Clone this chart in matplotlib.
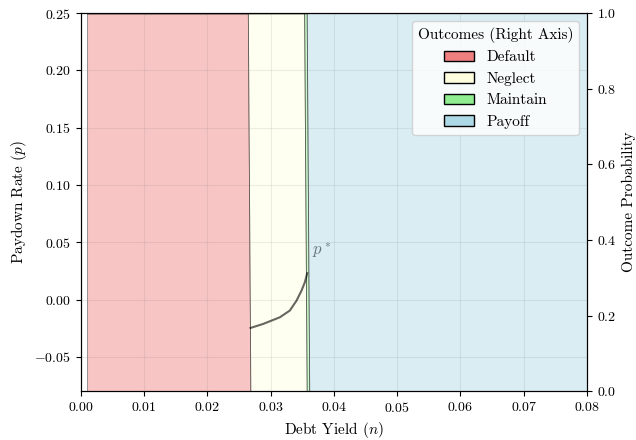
import matplotlib
matplotlib.use('Agg')
import matplotlib.pyplot as plt
from matplotlib.patches import Patch

plt.rcParams.update({
    'font.family': 'serif',
    'font.serif': ['cmr10'],
    'mathtext.fontset': 'cm',
    'axes.formatter.use_mathtext': True,
    'font.size': 11,
    'xtick.labelsize': 10,
    'ytick.labelsize': 10,
})

# Outcome probabilities along debt yield (right axis)
yield_n = [0.001, 0.0264, 0.0268, 0.0353, 0.0357, 0.0361, 0.08]
p_default = [1, 1, 0, 0, 0, 0, 0]
p_neglect = [0, 0, 1, 1, 0, 0, 0]
p_maintain = [0, 0, 0, 0, 1, 0, 0]
p_payoff = [0, 0, 0, 0, 0, 1, 1]

outcomes = ['Default', 'Neglect', 'Maintain', 'Payoff']
colors = ['lightcoral', 'lightyellow', 'lightgreen', 'lightblue']

# Threshold paydown rate p* (left axis)
pstar_n = [0.02683, 0.02882, 0.03146, 0.03304, 0.03410, 0.03489, 0.03541, 0.03578]
pstar_p = [-0.0248, -0.0213, -0.0155, -0.0096, -0.0009, 0.0079, 0.0151, 0.0230]

fig, ax = plt.subplots(figsize=(6.36, 4.4), dpi=100)
fig.subplots_adjust(left=0.127, right=0.923, top=0.970, bottom=0.111)
ax2 = ax.twinx()

ax2.stackplot(yield_n, p_default, p_neglect, p_maintain, p_payoff,
              colors=colors, alpha=0.45, edgecolor='k', linewidth=0.6)
ax2.set_ylim(0, 1)
ax2.set_ylabel('Outcome Probability')

# put left axis (line, grid, legend) on top of the filled areas
ax.set_zorder(ax2.get_zorder() + 1)
ax.patch.set_visible(False)

ax.plot(pstar_n, pstar_p, color='k', alpha=0.6, lw=1.5)
ax.text(0.0365, 0.043, '$p^*$', color='#6b7780', fontsize=12, va='center')

ax.set_xlim(0, 0.08)
ax.set_ylim(-0.08, 0.25)
ax.set_xlabel('Debt Yield ($n$)')
ax.set_ylabel('Paydown Rate ($p$)')
ax.grid(True, color='gray', alpha=0.15, lw=0.8)

handles = [Patch(facecolor=c, edgecolor='k', label=l) for c, l in zip(colors, outcomes)]
ax.legend(handles=handles, title='Outcomes (Right Axis)', loc='upper right')

fig.savefig('out.png', dpi=100)
